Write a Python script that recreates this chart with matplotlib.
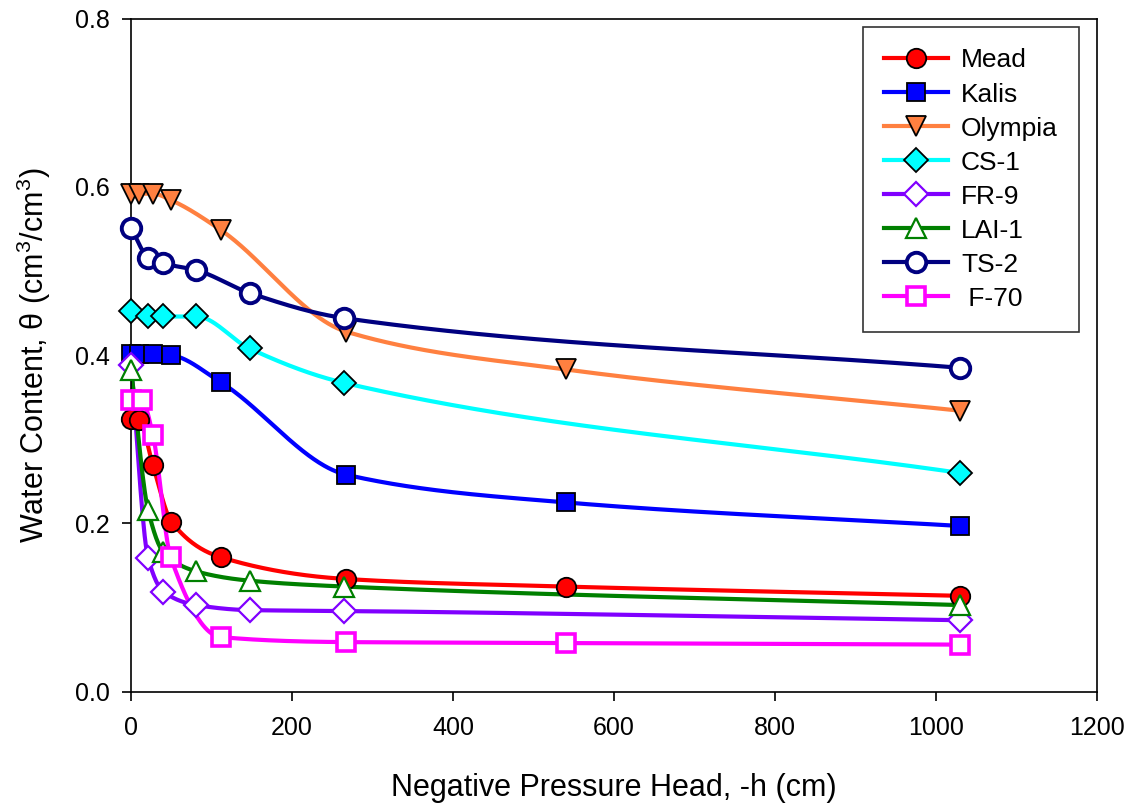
import matplotlib
matplotlib.use('Agg')
import matplotlib.pyplot as plt
import numpy as np

plt.rcParams['font.family'] = ['Liberation Sans', 'DejaVu Sans']
plt.rcParams['mathtext.fontset'] = 'custom'
plt.rcParams['mathtext.rm'] = 'Liberation Sans'

# soil water retention data
mead_h = [0, 10, 27, 50, 111, 267, 540, 1030]
mead_t = [0.324, 0.323, 0.269, 0.202, 0.160, 0.134, 0.125, 0.114]

kalis_h = [0, 10, 27, 50, 111, 267, 540, 1030]
kalis_t = [0.402, 0.402, 0.402, 0.400, 0.368, 0.258, 0.225, 0.197]

olympia_h = [0, 10, 27, 50, 111, 267, 540, 1030]
olympia_t = [0.592, 0.592, 0.592, 0.584, 0.549, 0.428, 0.383, 0.334]

cs1_h = [0, 21, 40, 81, 147, 265, 1030]
cs1_t = [0.452, 0.446, 0.446, 0.446, 0.408, 0.367, 0.260]

fr9_h = [0, 21, 40, 81, 147, 265, 1030]
fr9_t = [0.388, 0.159, 0.119, 0.103, 0.097, 0.096, 0.085]

lai1_h = [0, 21, 40, 81, 147, 265, 1030]
lai1_t = [0.382, 0.216, 0.166, 0.143, 0.132, 0.125, 0.103]

ts2_h = [0, 21, 40, 81, 147, 265, 1030]
ts2_t = [0.551, 0.516, 0.509, 0.501, 0.474, 0.444, 0.385]

f70_h = [0, 13, 27, 49, 111, 267, 540, 1030]
f70_t = [0.347, 0.347, 0.305, 0.160, 0.065, 0.059, 0.058, 0.056]


def pchip(x, y, xs):
    # monotone cubic curve through the points, to mimic the spline lines
    x = np.asarray(x, float)
    y = np.asarray(y, float)
    h = np.diff(x)
    d = np.diff(y) / h
    m = np.zeros_like(y)
    for k in range(1, len(x) - 1):
        if d[k - 1] * d[k] > 0:
            w1 = 2 * h[k] + h[k - 1]
            w2 = h[k] + 2 * h[k - 1]
            m[k] = (w1 + w2) / (w1 / d[k - 1] + w2 / d[k])
    m[0] = d[0]
    m[-1] = d[-1]
    idx = np.clip(np.searchsorted(x, xs) - 1, 0, len(x) - 2)
    t = (xs - x[idx]) / h[idx]
    h00 = 2 * t**3 - 3 * t**2 + 1
    h10 = t**3 - 2 * t**2 + t
    h01 = -2 * t**3 + 3 * t**2
    h11 = t**3 - t**2
    return h00 * y[idx] + h10 * h[idx] * m[idx] + h01 * y[idx + 1] + h11 * h[idx] * m[idx + 1]


# name, x, y, line colour, marker, face, edge, size, edge width
series = [
    ("Mead", mead_h, mead_t, "#FF0000", "o", "#FF0000", "black", 14, 1.3),
    ("Kalis", kalis_h, kalis_t, "#0000FF", "s", "#0000FF", "black", 12.5, 1.3),
    ("Olympia", olympia_h, olympia_t, "#FF8040", "v", "#FF8040", "black", 14, 1.3),
    ("CS-1", cs1_h, cs1_t, "#00FFFF", "D", "#00FFFF", "black", 12, 1.3),
    ("FR-9", fr9_h, fr9_t, "#8000FF", "D", "white", "#8000FF", 12, 1.6),
    ("LAI-1", lai1_h, lai1_t, "#008000", "^", "white", "#008000", 14, 1.6),
    ("TS-2", ts2_h, ts2_t, "#000080", "o", "white", "#000080", 14, 2.8),
    (" F-70", f70_h, f70_t, "#FF00FF", "s", "white", "#FF00FF", 12.5, 2.6),
]

fig = plt.figure(figsize=(11.31, 8.10), dpi=100)
ax = fig.add_axes([0.116, 0.146, 0.854, 0.831])

for name, hh, tt, col, mk, fc, ec, ms, mew in series:
    xs = np.linspace(hh[0], hh[-1], 800)
    ax.plot(xs, pchip(hh, tt, xs), color=col, lw=3.0, zorder=2)
    ax.plot(hh, tt, ls='none', marker=mk, ms=ms, mfc=fc, mec=ec, mew=mew,
            zorder=3, clip_on=False)
    ax.plot([], [], color=col, lw=3.0, marker=mk, ms=ms, mfc=fc, mec=ec, mew=mew,
            label=name)

ax.set_xlim(0, 1200)
ax.set_ylim(0, 0.8)
ax.set_xticks(np.arange(0, 1201, 200))
ax.set_yticks([0.0, 0.2, 0.4, 0.6, 0.8])
ax.set_yticklabels(["0.0", "0.2", "0.4", "0.6", "0.8"])
ax.tick_params(direction='out', length=6.5, width=1.2, labelsize=18)
ax.tick_params(axis='x', pad=11)
ax.tick_params(axis='y', pad=9)
for s in ax.spines.values():
    s.set_linewidth(1.2)

ax.set_xlabel("Negative Pressure Head, -h (cm)", fontsize=22, labelpad=24)
ax.set_ylabel("Water Content, θ (cm$\\mathregular{^3}$/cm$\\mathregular{^3}$)",
              fontsize=22, labelpad=16)

leg = ax.legend(loc='upper left', bbox_to_anchor=(0.758, 0.987), fontsize=19,
                frameon=True, fancybox=False, edgecolor='black', handlelength=2.4,
                handletextpad=0.5, labelspacing=0.38, borderpad=0.8,
                borderaxespad=0)
leg.get_frame().set_linewidth(1.2)

fig.savefig("out.png", dpi=100)
